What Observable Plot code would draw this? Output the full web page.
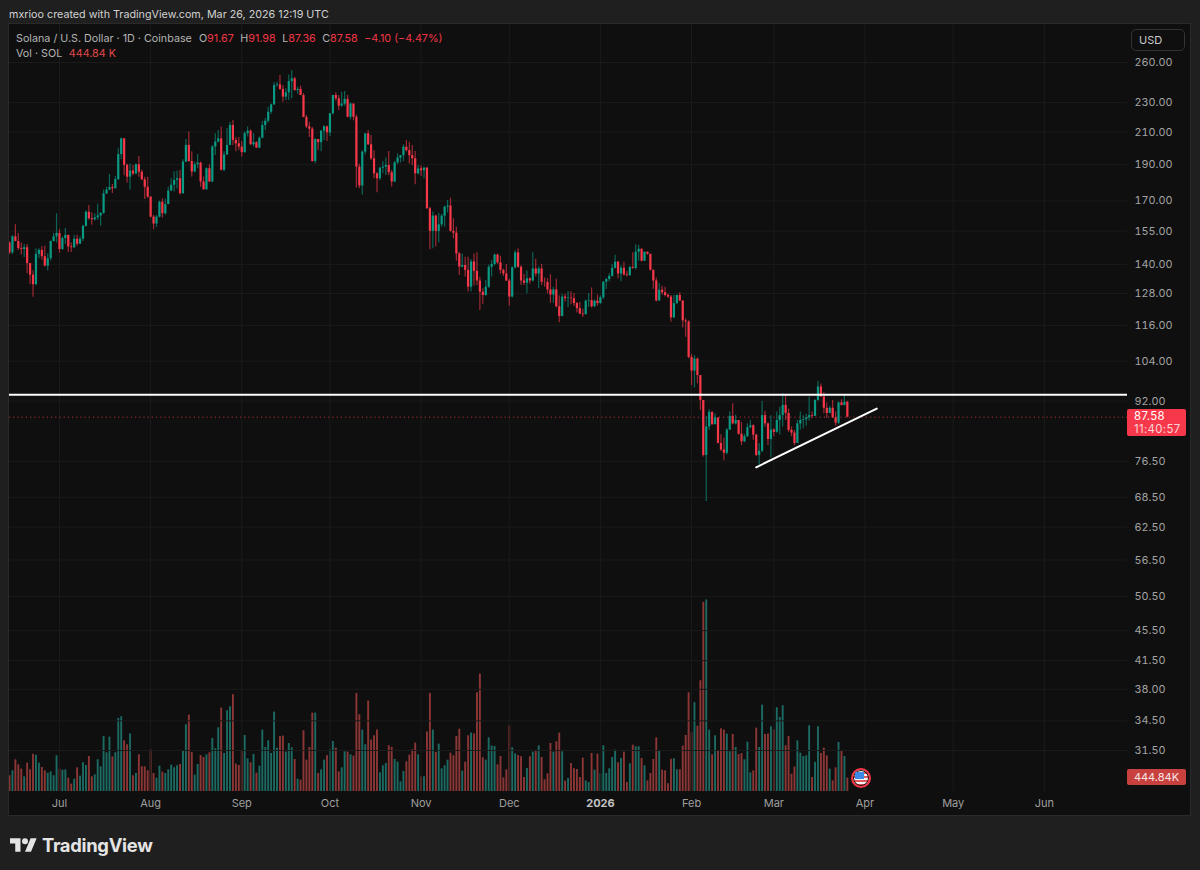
<!DOCTYPE html>
<html><head><meta charset="utf-8">
<script src="https://cdn.jsdelivr.net/npm/d3@7"></script>
<script src="https://cdn.jsdelivr.net/npm/@observablehq/plot@0.6"></script>
<style>
html,body{margin:0;padding:0;background:#1f1f1f;overflow:hidden}
#page{position:relative;width:1200px;height:870px;background:#1f1f1f;font-family:Inter,"Liberation Sans",sans-serif;overflow:hidden}
#pane{position:absolute;left:9px;top:24px;width:1181px;height:791px;background:#0f0f0f;box-shadow:0 0 0 1px #2a2a2a}
#page > svg{position:absolute;left:0;top:24px;background:transparent}
.abs{position:absolute;white-space:nowrap}
#credit{left:9px;top:8px;font-size:10.75px;line-height:14px;color:#d1d1d1}
.leg{left:16px;font-size:10.75px;line-height:14px;color:#b4b4b4}
.leg b{font-weight:400;color:#f23645}
.leg span{margin-left:6.5px}
#usd{left:1131px;top:29px;width:54px;height:22px;box-sizing:border-box;border:1px solid #333;border-radius:5px;color:#c8c8c8;font-size:11px;line-height:20px;padding-left:7px}
#tag{left:1127px;top:409px;width:59px;height:27px;background:#f7384a;border-radius:2px;color:#fff;font-size:11.4px;letter-spacing:.35px;line-height:13px;padding:1px 0 0 7px;box-sizing:border-box}
#tag div+div{color:#fbd5d8}
#vtag{left:1127px;top:769px;width:59px;height:16px;background:#c8413f;border-radius:2px;color:#f7e4e4;font-size:11px;line-height:16px;text-align:center}
#flag{left:851px;top:768px;width:16px;height:16px;border:2px solid #f23645;border-radius:50%;padding:0;box-shadow:inset 0 0 0 1px #111;overflow:hidden;background:repeating-linear-gradient(#f4f4f4 0 2px,#e25a5a 2px 4px)}
#flag i{position:absolute;left:2px;top:2px;width:9px;height:7px;background:#3d8ae6}
#logo{left:10px;top:834px;display:flex;align-items:center;gap:5px;color:#e4e4e4;font-weight:700;font-size:18.4px;letter-spacing:-.3px}
</style></head><body>
<div id="page">
<div id="pane"></div>
<div class="abs" id="credit">mxrioo created with TradingView.com, Mar 26, 2026 12:19 UTC</div>
</div>
<script>
const firstOpen = 149.5;
const closes = [
145,152.3,150.1,146.9,146.5,147.3,140.3,135.4,131.5,144.3,
146.1,143.3,139.2,142.4,150.1,152.3,153.9,146.5,151.5,153,
147.7,147.3,151.2,148.9,151.2,157.3,164.2,161,160.5,161.4,
162.4,163.7,173.7,175.8,177.1,176.5,181.5,196,205.7,189.6,
182.9,186.3,184.7,190,185.7,181.4,177.3,172,161.8,158.4,
161.8,169.3,163.5,168.1,175.2,178.4,181.1,182,173.9,191.5,
201.6,191.9,185.8,190,190.9,180.2,176,187.7,180.2,200.6,
203.7,205.7,186.8,195.8,201.6,214.3,204.7,202.6,200.6,197.2,
209,210.6,202,203.3,200,206.1,214.3,217.1,223.2,228.3,
242.3,242.8,239.4,233.8,236.9,245.2,247.3,238.6,239.4,235,
219.6,213.4,211.9,191.9,205.3,203.3,210.6,213.4,209.5,222.2,
235,232.6,227.4,228.9,232.2,219.8,228.9,219.8,188.6,178,
197.5,208.9,202,193.5,184.8,182,188,188.6,189.6,185.4,
180.2,191.1,193.9,195.4,200.5,198.4,195.4,193.5,184.8,187.6,
186.5,188,166,154.9,162.3,154.9,158,162.3,166.8,167.4,
154.9,154,144.5,138.8,139.5,137.4,130.5,141,137,133,
128.5,127.2,130.5,138.7,139.9,144,140.6,137.4,135.9,133,
126.6,138.5,145,138.7,133,132.1,133.9,133,138,135.9,
138,132.5,132.4,129.4,127.4,129.4,122.9,119.3,126.6,126,
126.2,126,124.1,122.2,120.2,119.9,125,125.2,122.9,125,
124.1,126.3,132.5,133.6,134.9,138.3,140.9,135.9,138.3,135.5,
135.2,138.6,138.2,145.3,146.6,141.3,145.3,144.4,137.5,133,
125.1,129.3,128.3,127.2,126.6,118.8,124.1,127.2,125.1,117.7,
117.3,105.2,100.9,104.7,99.5,92.2,77.9,85,88.9,85.6,
87.4,80.8,79.2,78.4,84.2,87.8,85.8,86.7,83.1,81.2,
82.5,84.8,85.3,82.9,77.9,78.9,88,85.8,81.8,84.2,
83.6,86.7,88,90.8,88.6,84.1,83.4,80.8,85.8,86.7,
86.9,87.4,88,87.8,92.2,96.1,93.2,90,88.6,90,
87.4,86,91.5,90.8,91.67,87.58];
const highs = [
149.9,153,158,153.9,149.5,148.8,148.8,140.3,137.3,146.8,
146.8,147.7,148,144.6,150.4,153.9,163.5,155.7,152.3,156.2,
153,149.5,153,153,152.3,157.8,165,167.7,164,163.5,
168.4,164,175.8,177.3,184.4,178.8,183.3,199.5,206.3,205.7,
190.5,190.5,189.6,190.5,194.8,186.9,182.9,182.9,172.4,162.7,
162.7,170,171.2,171,177.3,182,186,186.4,186.8,193,
205.3,210,197.8,191.5,196,191.5,183,188.2,190,201.6,
208.9,211,213.4,197.8,212.3,216.5,217.6,206.6,206.6,204,
210,213.4,211.5,209,204,206.9,217.1,218.9,226.6,228.9,
244.3,244.8,249.8,242.3,239.8,250.3,253.7,248.5,241,241.8,
236.4,221,216.3,213,205.7,205.3,211,214.3,213.9,222.2,
235,236.9,235,237.3,237.9,235,229.7,228.9,221.3,190.4,
198.4,208.9,211,207.8,198.4,185.4,188.6,191.9,193.9,197.9,
186.7,191.9,196.5,195.4,202,204.6,203.6,201.6,197.9,189.6,
189.2,188.6,188.6,166.8,164.3,162.7,163.7,163.2,167.4,170.3,
171.5,161,156.9,145.3,144.5,143,143,142.1,144.5,145,
134.5,129.9,133.2,139.7,141.6,144.5,144.5,143.5,137.9,139.9,
133.7,138.8,146,146.8,139.4,135.7,137.1,134.3,145,142.2,
138.8,139.9,134.3,134,135.6,130.5,133.7,127,127.7,127.7,
128.7,128.7,128,124.5,124.5,122,125.5,128,130.2,125.5,
127.4,127,132.8,134.1,136,139.9,143.9,141.2,139.4,140.9,
136.9,139.2,145,148.6,148.4,146.8,145.3,145.3,143.8,137.5,
134.2,132.1,130.9,130.5,127.9,127.2,127.2,127.4,128.3,125.1,
118.5,117.7,106.2,105.8,105,99.5,92.2,87.7,89.6,89,
88.5,87.2,83,82.1,84.5,89,91.3,88.1,86.7,86.2,
83.1,85.8,86.7,85.6,83.1,80.8,92,89.2,86,88,
84.5,89,90.3,94.1,93.6,89.8,85,84.1,86.7,89,
88,88.4,93.2,89,92.4,97.7,97,94.5,91.5,90.6,
92.2,89,91.8,92.4,93.6,91.98];
const lows = [
144.3,144.3,150,146.1,144,142.9,136,131.5,126.5,131.1,
142.4,141.7,138.9,137.1,141.4,150,149.5,144.9,146.1,148.8,
145.2,145.2,146.8,148,148.8,150.1,157,160.2,157.8,159.9,
160.2,157.3,163.2,173.4,175.5,174,176.5,181,192.9,183.7,
179.6,175.8,183.7,184.2,182.9,181,170.8,171.3,161.4,155.7,
156.7,161.4,161.4,162.7,173.9,175.6,174.8,176.4,173,173.4,
191.3,191.5,183,185.4,187.7,177.3,175.6,175.6,179.8,179.8,
195.4,203.3,186.4,186,195.4,201.6,201.6,197.8,198.6,194.5,
196.8,206.9,201.6,200.6,199.6,199.6,205.7,211,216,221.8,
227.8,241,238.6,230.2,231.4,231.4,232.6,238,235.9,234.8,
219.6,212.3,206.6,191.5,190.6,198.6,197.8,204.7,204.1,207,
221.3,231.1,224.4,226.7,227.4,219.4,218,217.4,176.9,176.5,
173,195.9,201.6,192.5,182,174.3,181.1,184.8,183.8,183.8,
177.4,179.8,190,191.1,191.9,197.5,190.4,189.6,178.7,184.1,
183.3,182,165.7,146.4,146.8,147.6,149.5,156.9,156.9,163.9,
154.5,151.4,141.3,135.3,138.4,134.6,128.6,128.6,131,131.2,
121.5,123.8,127,130.1,134.6,139.3,140,135.8,134.9,132.8,
123.1,126.2,138,138.3,131.2,131.2,127.9,131.8,132.6,134.6,
129.9,131.2,130.5,127.9,124.2,124.2,122.4,117,119.1,124.7,
122.6,123.7,123,120.6,119.9,118.9,120,122.6,122.4,122.6,
123.1,123.8,125.7,129.6,132.6,134.6,138,133.9,132.7,135,
134.6,134.9,137.9,137.6,141.3,141,141.3,143.9,137,129.7,
124.7,125,127.3,126.6,126,117.2,118.5,123.7,124.8,115.1,
111.9,104.8,96.5,95.8,97,89.4,77.5,67.6,84.1,85.4,
85.5,80.7,78.8,76.6,78,84.1,85.6,85.5,82.9,80.3,
81,82.3,84.5,81.6,77.6,75.6,78.6,85,80.3,77.3,
82.5,83.4,82.9,85,86.7,83.6,82.5,80.3,81.4,84.2,
84.5,85.2,86.5,87.2,87.8,92,93,88.5,87.2,88.5,
87.2,85.2,85.6,90.6,90.6,87.36];
const volumesK = [
517,682,1045,880,737,484,935,715,1232,1199,
935,792,682,605,649,517,1177,737,704,715,
440,242,407,781,506,946,858,1155,484,550,
1045,814,1815,1276,1793,1144,1276,2409,2464,1672,
1540,1892,517,594,1210,814,814,682,1375,594,
440,836,638,594,715,869,781,847,891,1342,
2200,2519,1287,539,891,1188,1122,1210,1276,1749,
1408,2101,2750,1254,2662,2794,3190,902,858,1342,
1848,1078,946,1221,605,836,2024,1452,1672,1254,
2618,1430,1815,1826,1298,1584,1441,1056,407,374,
2002,1034,1452,2585,2585,594,715,1034,1177,1375,
1650,1430,649,781,1309,1298,1210,1166,3234,2530,
2024,1540,2981,1694,1837,2024,616,847,924,1507,
1452,1056,968,319,660,979,1199,1375,1595,1210,
484,484,1958,3234,2024,1287,1562,748,847,1034,
1265,1177,1815,2057,671,968,1837,1925,1892,3256,
3872,1111,1034,1771,1496,1485,880,1155,451,715,
2156,1441,1243,1188,1144,462,759,1144,1298,1320,
1507,1122,385,583,1584,1298,1639,1925,1309,341,
429,924,748,726,462,1100,352,297,1254,704,
1232,583,1507,594,748,1122,1364,946,1089,1298,
297,913,1529,1474,1474,1089,847,352,594,1056,
1771,1320,704,682,253,1067,1078,715,715,1496,
1848,3256,1936,2926,2156,3652,6237,6314,2024,1210,
1837,1331,2068,2024,1892,1309,1881,1452,1221,1254,
1045,1628,616,682,2090,1452,2849,1881,1892,2134,
2035,2761,2442,2827,1507,1815,572,803,1672,1265,
1155,1177,2167,462,968,2134,1254,1430,1177,737,
352,781,1617,1342,1155,444.84];
const priceTicks = [260,230,210,190,170,155,140,128,116,104,92,76.5,68.5,62.5,56.5,50.5,45.5,41.5,38,34.5,31.5];
const monthLabels = ["Jul","Aug","Sep","Oct","Nov","Dec","2026","Feb","Mar","Apr","May","Jun"];
const monthDates = ["2025-07-01","2025-08-01","2025-09-01","2025-10-01","2025-11-01","2025-12-01","2026-01-01","2026-02-01","2026-03-01","2026-04-01","2026-05-01","2026-06-01"].map(d=>new Date(d));
const resistance = 93.8, lastPrice = 87.58;
const trendDates = ["2026-02-23","2026-04-05"].map(d=>new Date(d));
const trendPrices = [75.1,89.9];

const day0 = Date.UTC(2025,5,14);
const candles = closes.map((c,i)=>({date:new Date(day0+i*864e5),open:i?closes[i-1]:firstOpen,close:c,high:highs[i],low:lows[i],vol:volumesK[i]}));
candles.forEach(d=>d.up=d.close>=d.open);
const up = candles.filter(d=>d.up), down = candles.filter(d=>!d.up);
const trend = trendDates.map((date,i)=>({date,price:trendPrices[i]}));
const months = monthDates.map((date,i)=>({date,label:monthLabels[i]}));

const GREEN="#0a9a84", RED="#f7384a";
const xOpt = {type:"utc",domain:[new Date(day0),new Date(Date.UTC(2026,5,29,7))]};
const common = {width:1200,height:791,marginLeft:9,marginRight:73,marginTop:0,marginBottom:24,
  style:{background:"transparent",fontFamily:"Inter, 'Liberation Sans', sans-serif"}};

const wick = (data,color)=>Plot.ruleX(data,{x:"date",y1:"low",y2:"high",stroke:color,strokeWidth:1.2,strokeOpacity:.62,clip:true});
const body = (data,color)=>Plot.ruleX(data,{x:"date",y1:"open",y2:"close",stroke:color,strokeWidth:2.2,clip:true});

const price = Plot.plot({...common,
  x:{...xOpt,axis:null},
  y:{type:"log",domain:[31.5,260],range:[726,38],axis:null},
  marks:[
    Plot.gridY(priceTicks,{stroke:"#1b1b1b",strokeOpacity:1}),
    Plot.gridX(monthDates,{stroke:"#1b1b1b",strokeOpacity:1}),
    Plot.axisY(priceTicks,{anchor:"right",tickSize:0,tickPadding:7,label:null,fill:"#a3a3a3",fontSize:10.8,tickFormat:d=>d.toFixed(2)}),
    Plot.text(months.filter(d=>d.label!=="2026"),{x:"date",text:"label",frameAnchor:"bottom",dy:15,fill:"#9f9f9f",fontSize:11}),
    Plot.text(months.filter(d=>d.label==="2026"),{x:"date",text:"label",frameAnchor:"bottom",dy:15,fill:"#c4c4c4",fontWeight:700,fontSize:11}),
    Plot.ruleY([lastPrice],{stroke:"#b3303c",strokeDasharray:"1.2 3"}),
    wick(up,GREEN),wick(down,RED),body(up,GREEN),body(down,RED),
    Plot.ruleY([resistance],{stroke:"#fff",strokeWidth:2}),
    Plot.line(trend,{x:"date",y:"price",stroke:"#fff",strokeWidth:2,clip:false})
  ]});

const volume = Plot.plot({...common,
  x:{...xOpt,axis:null},
  y:{type:"linear",domain:[0,6314],range:[767,575.5],axis:null},
  marks:[
    Plot.ruleX(up,{x:"date",y1:0,y2:"vol",stroke:"#1c6b63",strokeWidth:1.9,clip:true}),
    Plot.ruleX(down,{x:"date",y1:0,y2:"vol",stroke:"#8d3636",strokeWidth:1.9,clip:true})
  ]});

const page = document.getElementById("page");
page.append(volume,price);
page.insertAdjacentHTML("beforeend",`
<div class="abs leg" style="top:32px">Solana / U.S. Dollar · 1D · Coinbase<span style="margin-left:7px">O<b>91.67</b></span><span>H<b>91.98</b></span><span>L<b>87.36</b></span><span>C<b>87.58</b></span><span><b>−4.10 (−4.47%)</b></span></div>
<div class="abs leg" style="top:47px">Vol · SOL<span><b style="color:#e0484a">444.84 K</b></span></div>
<div class="abs" id="usd">USD</div>
<div class="abs" id="tag"><div>87.58</div><div>11:40:57</div></div>
<div class="abs" id="vtag">444.84K</div>
<div class="abs" id="flag"><i></i></div>
<div class="abs" id="logo"><svg width="27" height="14" viewBox="0 4 36 18"><path fill="#e4e4e4" d="M14 22H7V11H0V4h14v18zM28 22h-8l7.5-18h8L28 22z"/><circle cx="20" cy="8" r="4" fill="#e4e4e4"/></svg><span>TradingView</span></div>`);
</script>
</body></html>
